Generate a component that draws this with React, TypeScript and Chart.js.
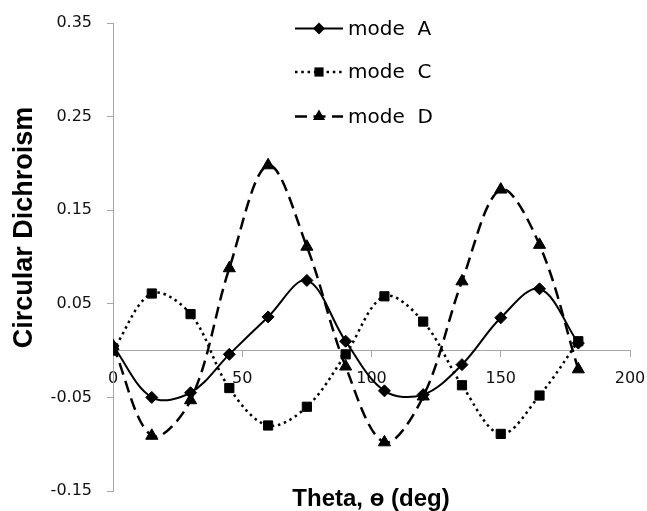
import React, { useEffect, useRef } from "react";
import { Chart, registerables } from "chart.js";

Chart.register(...registerables);

const thetaDeg = [0, 15, 30, 45, 60, 75, 90, 105, 120, 135, 150, 165, 180];
const modeA = [0.005, -0.05, -0.045, -0.004, 0.036, 0.075, 0.01, -0.043, -0.047, -0.015, 0.035, 0.066, 0.008];
const modeC = [0.0, 0.061, 0.039, -0.04, -0.08, -0.06, -0.004, 0.058, 0.031, -0.037, -0.089, -0.048, 0.01];
const modeD = [0.005, -0.091, -0.053, 0.088, 0.198, 0.111, -0.017, -0.098, -0.049, 0.074, 0.172, 0.113, -0.02];
const seriesLabels = ["mode  A", "mode  C", "mode  D"];
const yTicks = [-0.15, -0.05, 0.05, 0.15, 0.25, 0.35];
const xTicks = [0, 50, 100, 150, 200];
const xTitle = "Theta, ө (deg)";
const yTitle = "Circular Dichroism";

const AXIS_GRAY = "#a6a6a6";

const overlayPlugin = {
  id: "overlay",
  afterDraw(chart: any) {
    const ctx = chart.ctx;
    ctx.save();
    // legend
    const rows = [28.5, 72, 116.5];
    chart.data.datasets.forEach((ds: any, i: number) => {
      const y = rows[i];
      ctx.strokeStyle = "#000";
      ctx.lineWidth = ds.borderWidth;
      ctx.setLineDash(ds.borderDash || []);
      ctx.beginPath();
      ctx.moveTo(295, y);
      ctx.lineTo(343, y);
      ctx.stroke();
      ctx.setLineDash([]);
      ctx.fillStyle = "#000";
      const style = ds.pointStyle;
      const r = ds.pointRadius;
      const px = 319;
      ctx.beginPath();
      if (style === "rectRot") {
        ctx.moveTo(px, y - r);
        ctx.lineTo(px + r, y);
        ctx.lineTo(px, y + r);
        ctx.lineTo(px - r, y);
      } else if (style === "rect") {
        const s = r * Math.SQRT1_2;
        ctx.rect(px - s, y - s, 2 * s, 2 * s);
      } else {
        ctx.moveTo(px, y - r);
        ctx.lineTo(px + r * 0.866, y + r * 0.5);
        ctx.lineTo(px - r * 0.866, y + r * 0.5);
      }
      ctx.closePath();
      ctx.fill();
      ctx.font = "20px 'DejaVu Sans'";
      ctx.textAlign = "left";
      ctx.textBaseline = "middle";
      ctx.fillText(ds.label, 348, y + 1);
    });
    // axis titles
    ctx.fillStyle = "#000";
    ctx.font = "bold 24px 'Liberation Sans'";
    ctx.textAlign = "center";
    ctx.textBaseline = "alphabetic";
    ctx.fillText(xTitle, 371, 506);
    ctx.translate(32, 227.5);
    ctx.rotate(-Math.PI / 2);
    ctx.font = "bold 27px 'Liberation Sans'";
    ctx.fillText(yTitle, 0, 0);
    ctx.restore();
  },
};

function toPoints(vals: number[]) {
  return thetaDeg.map((x, i) => ({ x, y: vals[i] }));
}

function zeroPad(s: any) {
  s.paddingLeft = 0;
  s.paddingRight = 0;
  s.paddingTop = 0;
  s.paddingBottom = 0;
}

export default function App() {
  const ref = useRef<HTMLCanvasElement | null>(null);
  useEffect(() => {
    document.body.style.margin = "0";
    if (!ref.current) return;
    const chart = new Chart(ref.current, {
      type: "line",
      data: {
        datasets: [
          {
            label: seriesLabels[0],
            data: toPoints(modeA),
            borderColor: "#000",
            backgroundColor: "#000",
            borderWidth: 2,
            pointStyle: "rectRot",
            pointRadius: 6,
            pointBorderWidth: 1,
            tension: 0.35,
          },
          {
            label: seriesLabels[1],
            data: toPoints(modeC),
            borderColor: "#000",
            backgroundColor: "#000",
            borderWidth: 2.5,
            borderDash: [2.5, 3.8],
            pointStyle: "rect",
            pointRadius: 6.5,
            pointBorderWidth: 1,
            tension: 0.35,
          },
          {
            label: seriesLabels[2],
            data: toPoints(modeD),
            borderColor: "#000",
            backgroundColor: "#000",
            borderWidth: 2.5,
            borderDash: [12, 6.5],
            pointStyle: "triangle",
            pointRadius: 7,
            pointBorderWidth: 1,
            tension: 0.35,
          },
        ] as any,
      },
      options: {
        animation: false,
        responsive: false,
        layout: { padding: { left: 0, right: 17, top: 23, bottom: 20 } },
        plugins: { legend: { display: false }, tooltip: { enabled: false } },
        scales: {
          x: {
            type: "linear",
            min: xTicks[0],
            max: xTicks[xTicks.length - 1],
            position: { y: 0 } as any,
            afterFit: (s: any) => {
              s.height = 0;
              zeroPad(s);
            },
            afterBuildTicks: (s: any) => {
              s.ticks = xTicks.map((v) => ({ value: v }));
            },
            grid: {
              drawOnChartArea: false,
              drawTicks: true,
              tickLength: 6,
              color: AXIS_GRAY,
            },
            border: { color: AXIS_GRAY, width: 1 },
            ticks: {
              color: "#111",
              font: { family: "'DejaVu Sans'", size: 16 },
              padding: 13,
              maxRotation: 0,
              callback: (v: any) => String(v),
            },
          },
          y: {
            type: "linear",
            min: yTicks[0],
            max: yTicks[yTicks.length - 1],
            afterFit: (s: any) => {
              s.width = 113;
              zeroPad(s);
            },
            afterBuildTicks: (s: any) => {
              s.ticks = yTicks.map((v) => ({ value: v }));
            },
            grid: {
              drawOnChartArea: false,
              drawTicks: true,
              tickLength: 6,
              color: AXIS_GRAY,
            },
            border: { color: AXIS_GRAY, width: 1 },
            ticks: {
              color: "#111",
              font: { family: "'DejaVu Sans'", size: 16 },
              padding: 15,
              callback: (v: any) => Number(v).toFixed(2),
            },
          },
        },
      },
      plugins: [overlayPlugin],
    });
    return () => chart.destroy();
  }, []);
  return (
    <div style={{ width: 647, height: 511, background: "#fff" }}>
      <canvas ref={ref} width={647} height={511} style={{ display: "block" }} />
    </div>
  );
}
